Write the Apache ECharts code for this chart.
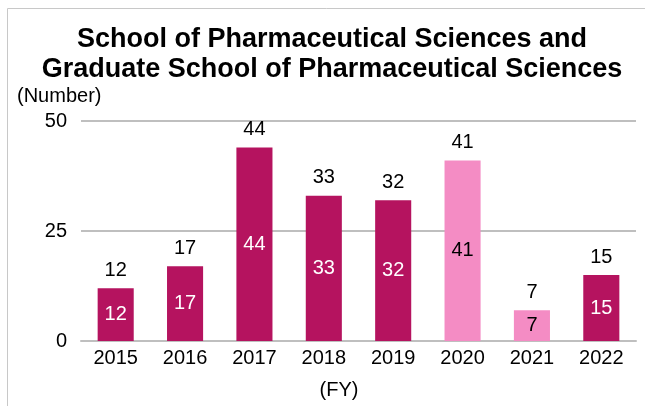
<!DOCTYPE html>
<html>
<head>
<meta charset="utf-8">
<script src="https://cdn.jsdelivr.net/npm/echarts@6/dist/echarts.min.js"></script>
<style>html,body{margin:0;padding:0;background:#fff}#c{width:645px;height:406px}</style>
</head>
<body>
<div id="c"></div>
<script>
const categories = ['2015','2016','2017','2018','2019','2020','2021','2022'];
const values = [12, 17, 44, 33, 32, 41, 7, 15];
const lightYears = ['2020','2021'];
const yTicks = [0, 25, 50];

const DARK = '#B5135F', LIGHT = '#F48CC4';
const FONT = '"Liberation Sans", Arial, sans-serif';
const isLight = i => lightYears.includes(categories[i]);

const chart = echarts.init(document.getElementById('c'), null, {renderer:'canvas'});
chart.setOption({
  animation: false,
  textStyle: {fontFamily: FONT},
  title: [
    {text: 'School of Pharmaceutical Sciences and\nGraduate School of Pharmaceutical Sciences',
     left: 327, top: 20, textAlign: 'center',
     textStyle: {fontFamily: FONT, fontSize: 27, fontWeight: 'bold', color: '#000', lineHeight: 30}},
    {text: '(Number)', left: 12, top: 81,
     textStyle: {fontFamily: FONT, fontSize: 20, fontWeight: 'normal', color: '#000'}},
    {text: '(FY)', left: 334, top: 375, textAlign: 'center',
     textStyle: {fontFamily: FONT, fontSize: 20, fontWeight: 'normal', color: '#000'}}
  ],
  graphic: [
    {type: 'polyline', shape: {points: [[7.5, 406], [7.5, 8.5], [645, 8.5]]},
     style: {stroke: '#C8C8C8', lineWidth: 1, fill: null}, silent: true}
  ],
  grid: {left: 81, right: 9, top: 121, bottom: 65},
  xAxis: {
    type: 'category', data: categories,
    axisLine: {lineStyle: {color: '#BFBFBF', width: 2}},
    axisTick: {show: false},
    axisLabel: {color: '#000', fontSize: 20, margin: 7, fontFamily: FONT}
  },
  yAxis: {
    type: 'value', min: yTicks[0], max: yTicks[yTicks.length-1], interval: yTicks[1]-yTicks[0],
    axisLine: {show: false}, axisTick: {show: false},
    axisLabel: {color: '#000', fontSize: 20, margin: 14, fontFamily: FONT},
    splitLine: {lineStyle: {color: '#BFBFBF', width: 2}}
  },
  series: [
    {
      type: 'bar', barCategoryGap: '48%', barGap: '-100%',
      data: values.map((v, i) => isLight(i) ? {value: v, label: {color: '#000'}} : v),
      itemStyle: {color: p => isLight(p.dataIndex) ? LIGHT : DARK},
      label: {show: true, position: 'inside', fontSize: 20, fontFamily: FONT, color: '#fff'},
      z: 2
    },
    {
      type: 'bar', data: values, barCategoryGap: '48%', barGap: '-100%',
      itemStyle: {color: 'rgba(0,0,0,0)'},
      label: {show: true, position: 'top', distance: 8, fontSize: 20, fontFamily: FONT, color: '#000'},
      z: 3, silent: true
    }
  ]
});
</script>
</body>
</html>
